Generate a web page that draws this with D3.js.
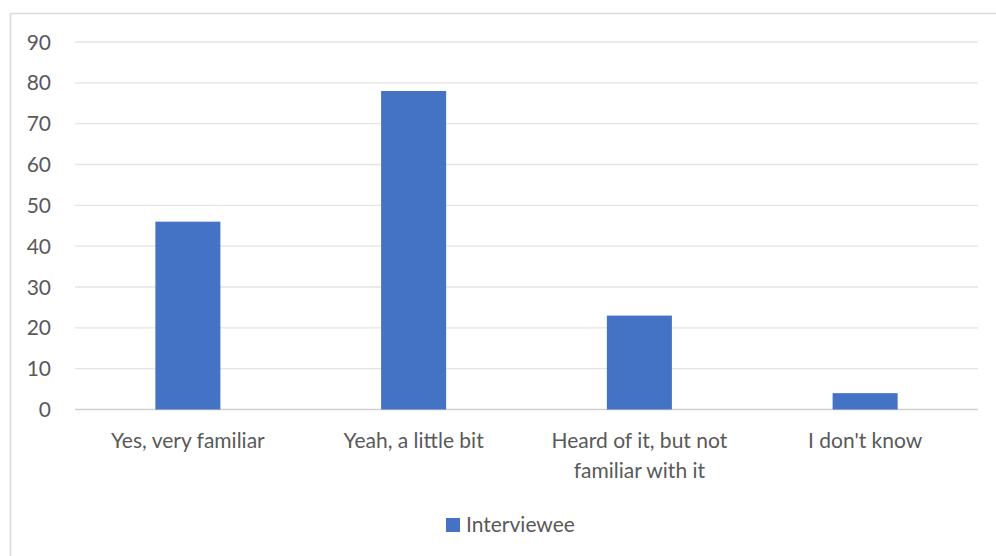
<!DOCTYPE html>
<html>
<head>
<meta charset="utf-8">
<script src="https://cdn.jsdelivr.net/npm/d3@7"></script>
<style>
  body { margin: 0; background: #fff; }
  text { font-family: Lato, "Open Sans", sans-serif; fill: #595959; }
</style>
</head>
<body>
<div id="chart"></div>
<script>
var categories = ["Yes, very familiar", "Yeah, a little bit", "Heard of it, but not familiar with it", "I don't know"];
var values = [46, 78, 23, 4];
var yTicks = [0, 10, 20, 30, 40, 50, 60, 70, 80, 90];
var seriesName = "Interviewee";

var svgWidth = 996;
var svgHeight = 556;
var fontSize = "21px";

var plot = { left: 75, right: 978, top: 42, bottom: 409.5 };

var svg = d3.select("#chart")
  .append("svg")
  .attr("width", svgWidth)
  .attr("height", svgHeight);

// chart border
svg.append("rect")
  .attr("x", 10.5)
  .attr("y", 13.5)
  .attr("width", 1000)
  .attr("height", 600)
  .attr("fill", "#fff")
  .attr("stroke", "#d9d9d9")
  .attr("stroke-width", 1.5);

var xScale = d3.scaleBand()
  .domain(categories)
  .range([plot.left, plot.right])
  .paddingInner(0.712)
  .paddingOuter(0.356);

var yScale = d3.scaleLinear()
  .domain([0, 90])
  .range([plot.bottom, plot.top]);

// gridlines
svg.append("g")
  .selectAll("line")
  .data(yTicks)
  .enter()
  .append("line")
  .attr("x1", plot.left)
  .attr("x2", plot.right)
  .attr("y1", d => yScale(d))
  .attr("y2", d => yScale(d))
  .attr("stroke", d => d === 0 ? "#d0d0d0" : "#e4e4e4")
  .attr("stroke-width", 1.3);

// y labels
svg.append("g")
  .selectAll("text")
  .data(yTicks)
  .enter()
  .append("text")
  .attr("x", 51)
  .attr("y", d => yScale(d))
  .attr("dy", "0.36em")
  .attr("text-anchor", "end")
  .style("font-size", fontSize)
  .text(d => d);

// bars
svg.append("g")
  .selectAll("rect")
  .data(values)
  .enter()
  .append("rect")
  .attr("x", (d, i) => xScale(categories[i]))
  .attr("y", d => yScale(d))
  .attr("width", xScale.bandwidth())
  .attr("height", d => yScale(0) - yScale(d))
  .attr("fill", "#4472c4");

// category labels, wrapped like the original
var labelLines = [["Yes, very familiar"], ["Yeah, a little bit"], ["Heard of it, but not", "familiar with it"], ["I don't know"]];
var catLabels = svg.append("g")
  .selectAll("text")
  .data(categories)
  .enter()
  .append("text")
  .attr("text-anchor", "middle")
  .style("font-size", fontSize)
  .attr("transform", d => `translate(${xScale(d) + xScale.bandwidth() / 2}, 448)`);

catLabels.each(function(d, i) {
  var t = d3.select(this);
  labelLines[i].forEach(function(line, j) {
    t.append("tspan")
      .attr("x", 0)
      .attr("y", j * 29.5)
      .text(line);
  });
});

// legend
var legend = svg.append("g")
  .attr("transform", "translate(446, 518)");

legend.append("rect")
  .attr("width", 14)
  .attr("height", 14)
  .attr("fill", "#4472c4");

legend.append("text")
  .attr("x", 20)
  .attr("y", 14)
  .style("font-size", fontSize)
  .text(seriesName);
</script>
</body>
</html>
